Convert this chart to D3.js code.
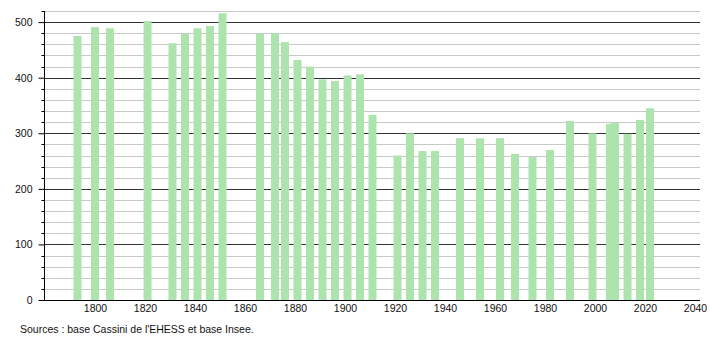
<!DOCTYPE html>
<html>
<head>
<meta charset="utf-8">
<script src="https://cdn.jsdelivr.net/npm/d3@7"></script>
<style>
  body { margin: 0; background: #fff; }
  svg text { font-family: "Liberation Sans", Arial, sans-serif; font-size: 10.5px; fill: #111; }
</style>
</head>
<body>
<svg id="chart" width="710" height="340"></svg>
<script>
// census years and population
const years = [1793, 1800, 1806, 1821, 1831, 1836, 1841, 1846, 1851,
  1866, 1872, 1876, 1881, 1886, 1891, 1896, 1901, 1906, 1911,
  1921, 1926, 1931, 1936, 1946, 1954, 1962, 1968, 1975, 1982,
  1990, 1999, 2006, 2008, 2013, 2018, 2022];
const population = [475, 491, 489, 502, 462, 479, 489, 493, 516,
  479, 480, 464, 432, 420, 397, 394, 404, 406, 333,
  260, 300, 268, 268, 291, 291, 291, 263, 257, 270,
  322, 300, 317, 319, 299, 324, 345];
const xTicks = [1800, 1820, 1840, 1860, 1880, 1900, 1920, 1940, 1960, 1980, 2000, 2020, 2040];
const yTicks = [0, 100, 200, 300, 400, 500];
const source = "Sources : base Cassini de l'EHESS et base Insee.";

const svg = d3.select('#chart');
const mLeft = 44, mRight = 700, mTop = 11, mBottom = 300;

let x = d3.scaleLinear().domain([1779.6, 2042]).range([mLeft, mRight]);
let y = d3.scaleLinear().domain([0, 520]).range([mBottom, mTop]);

// minor grid every 20
let minor = d3.range(20, 521, 20).filter(v => v % 100 !== 0);
svg.append('g')
  .selectAll('line')
  .data(minor)
  .enter()
  .append('line')
  .attr('x1', mLeft).attr('x2', mRight)
  .attr('y1', d => Math.round(y(d)) + 0.5).attr('y2', d => Math.round(y(d)) + 0.5)
  .attr('stroke', '#c8c8c8');

// major grid
svg.append('g')
  .selectAll('line')
  .data(yTicks.slice(1))
  .enter()
  .append('line')
  .attr('x1', mLeft).attr('x2', mRight)
  .attr('y1', d => Math.round(y(d)) + 0.5).attr('y2', d => Math.round(y(d)) + 0.5)
  .attr('stroke', '#333');

// bars
const barW = 8;
svg.append('g')
  .selectAll('rect')
  .data(years)
  .enter()
  .append('rect')
  .attr('x', d => x(d) - barW / 2)
  .attr('y', (d, i) => y(population[i]))
  .attr('width', barW)
  .attr('height', (d, i) => mBottom - y(population[i]))
  .attr('fill', '#ade3ad');

// y axis with minor ticks
let yAxis = d3.axisLeft(y).tickValues(yTicks).tickSize(6).tickPadding(6);
let gy = svg.append('g')
  .attr('transform', `translate(${mLeft + 0.5},0)`)
  .call(yAxis);
gy.select('.domain').attr('d', `M0,${mTop}V${mBottom}`).attr('stroke', '#000');
gy.selectAll('text').attr('fill', '#111').style('font-size', '10.5px');
gy.selectAll('.tick line').attr('stroke', '#000');
gy.selectAll('.minor')
  .data(minor)
  .enter()
  .append('line')
  .attr('class', 'minor')
  .attr('x1', -3).attr('x2', 0)
  .attr('y1', d => Math.round(y(d)) + 0.5).attr('y2', d => Math.round(y(d)) + 0.5)
  .attr('stroke', '#000');

// x axis
let xAxis = d3.axisBottom(x).tickValues(xTicks).tickFormat(d3.format('d')).tickSize(0).tickPadding(4);
let gx = svg.append('g')
  .attr('transform', `translate(0,${mBottom + 0.5})`)
  .call(xAxis);
gx.select('.domain').attr('d', `M39,0H${mRight}`).attr('stroke', '#000');
gx.selectAll('text').attr('fill', '#111').style('font-size', '10.5px');

svg.append('text')
  .attr('x', 20)
  .attr('y', 333)
  .text(source);
</script>
</body>
</html>
